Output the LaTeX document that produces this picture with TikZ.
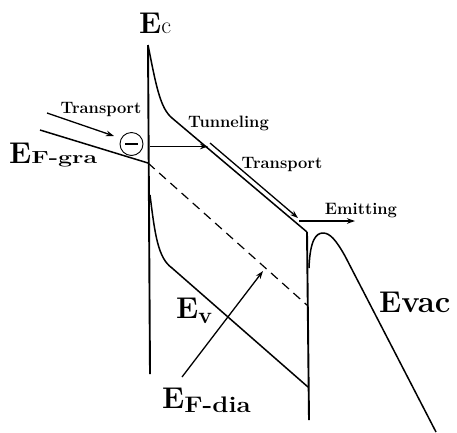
\documentclass[tikz,border=0pt]{standalone}
\usepackage{fontspec}
\usepackage{graphicx}
\usetikzlibrary{arrows.meta}
\tikzset{
  band/.style={line width=1.5pt, line join=round},
  wall/.style={line width=1.9pt},
  arr/.style={line width=1.3pt, -{Stealth[length=8pt,width=5.5pt]}},
  lbl/.style={font=\fontsize{16.5}{18}\selectfont\bfseries, inner sep=0pt, anchor=base},
  elbl/.style={inner sep=0pt, anchor=base west},
}
\newcommand{\myE}{{\fontsize{30}{31}\selectfont\bfseries E}}
\begin{document}
\begin{tikzpicture}[x=1pt,y=-1pt]
\useasboundingbox (0,0) rectangle (457,432);
% key points
\coordinate (LT) at (148,45);
\coordinate (LB) at (150,374);
\coordinate (RT) at (307,232);
\coordinate (RB) at (309,420);
\coordinate (ECbend) at (172,118);
\coordinate (EVtop) at (150,195);
\coordinate (EVbend) at (172,268);
\coordinate (EVend) at (308,387);
\coordinate (FGstart) at (40,130);
\coordinate (FG) at (148,163);
\coordinate (FDend) at (308,306);
\coordinate (TS) at (150,146.5);
\coordinate (TE) at (208,146.5);
\coordinate (TRs) at (210,143);
\coordinate (TRe) at (298,218);
\coordinate (EMs) at (299,221);
\coordinate (EMe) at (355,221);
\coordinate (T1s) at (47,113);
\coordinate (T1e) at (114,136);
\coordinate (FAs) at (182,377);
\coordinate (FAe) at (263,271);
\coordinate (VACs) at (309,268);
\coordinate (VACpk) at (323,233);
\coordinate (VACm) at (345,256);
\coordinate (VACe) at (436,432);
% walls
\draw[wall] (LT) -- (LB);
\draw[wall] (RT) -- (RB);
% conduction band
\draw[band] (LT) .. controls (156,85) and (160,108) .. (ECbend) -- (RT);
% valence band
\draw[band] (EVtop) .. controls (155,235) and (158,258) .. (EVbend) -- (EVend);
% Fermi levels
\draw[band] (FGstart) -- (FG);
\draw[line width=1.2pt, dash pattern=on 9pt off 6pt] (FG) -- (FDend);
% vacuum level
\draw[band] (VACs) .. controls (310,240) and (316,233) .. (VACpk)
  .. controls (330,233) and (336,240) .. (VACm) -- (VACe);
% electron
\node[circle, draw, line width=0.9pt, minimum size=23pt, inner sep=0pt] (el) at (131.5,144) {};
\draw[line width=1.1pt] ([xshift=-6.5pt]el.center) -- ([xshift=6.5pt]el.center);
% arrows
\draw[arr] (T1s) -- (T1e);
\draw[arr] (TS) -- (TE);
\draw[arr] (TRs) -- (TRe);
\draw[arr] (EMs) -- (EMe);
\draw[arr] (FAs) -- (FAe);
% labels
\node[lbl] (t1) at (101,113) {Transport};
\node[lbl] (t2) at (228.5,127) {Tunneling};
\node[lbl] (t3) at (282,168) {Transport};
\node[lbl] (t4) at (361,214) {Emitting};
\node[elbl] (ec) at (139,33) {\myE{\fontsize{24}{25}\selectfont c}};
\node[elbl] (efg) at (9,163) {\myE\scalebox{1.42}[1]{\fontsize{17.5}{18}\selectfont\bfseries F-gra}};
\node[elbl] (ev) at (176,318) {\myE\raisebox{-5pt}{\fontsize{23}{24}\selectfont\bfseries v}};
\node[elbl] (efd) at (162,408) {\myE\raisebox{-4pt}{\scalebox{1.15}[1]{\fontsize{22.5}{23}\selectfont\bfseries F-dia}}};
\node[elbl] (evac) at (379,312) {\myE{\fontsize{31}{32}\selectfont\bfseries vac}};
\end{tikzpicture}
\end{document}
